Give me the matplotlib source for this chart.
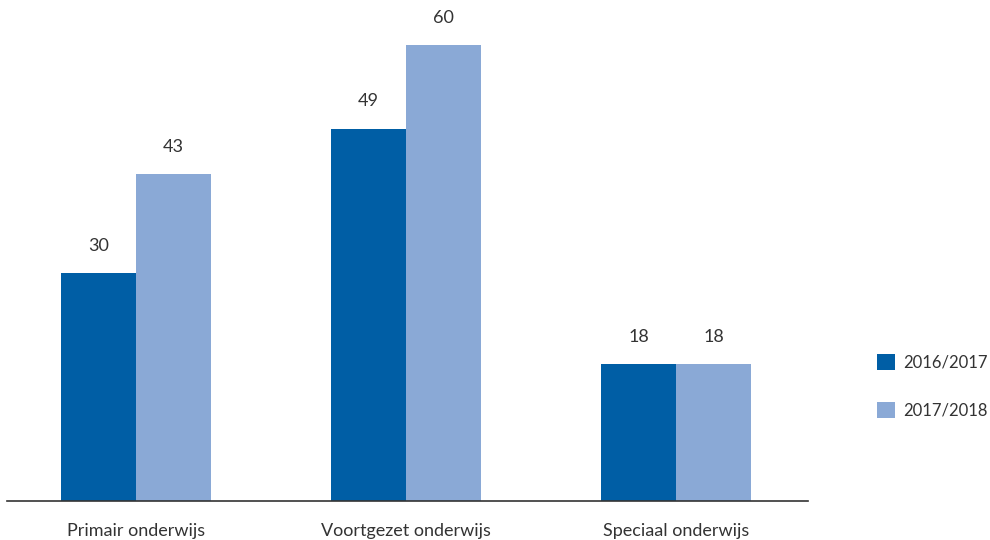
import matplotlib
matplotlib.use("Agg")
import matplotlib.pyplot as plt
import numpy as np

categories = ["Primair onderwijs", "Voortgezet onderwijs", "Speciaal onderwijs"]
series_names = ["2016/2017", "2017/2018"]
values_2016 = [30, 49, 18]
values_2017 = [43, 60, 18]

colors = ["#005ea5", "#8aa9d6"]
text_color = "#333333"

plt.rcParams['font.family'] = ['Lato', 'DejaVu Sans']

fig = plt.figure(figsize=(9.9, 5.4), dpi=100)
ax = fig.add_axes([7/990, 39/540, 801/990, 494/540])

x = np.arange(len(categories))
w = 0.278
b1 = ax.bar(x - w/2, values_2016, w, color=colors[0], label=series_names[0])
b2 = ax.bar(x + w/2, values_2017, w, color=colors[1], label=series_names[1])

for bars in (b1, b2):
    for r in bars:
        ax.annotate(f"{int(r.get_height())}", (r.get_x() + r.get_width()/2, r.get_height()),
                    xytext=(0, 14), textcoords="offset points", ha="center", va="bottom",
                    fontsize=13, color=text_color)

ax.set_xlim(-0.478, 2.489)
ax.set_ylim(0, 65)
ax.set_xticks(x)
ax.set_xticklabels(categories, fontsize=13, color=text_color)
ax.tick_params(axis='x', length=0, pad=16)
ax.set_yticks([])
for s in ["top", "right", "left"]:
    ax.spines[s].set_visible(False)
ax.spines["bottom"].set_color("#333333")
ax.spines["bottom"].set_linewidth(1.2)

fig.legend(handles=[b1, b2], labels=series_names, loc="center left",
           bbox_to_anchor=(877/990, 1 - 386/540), frameon=False, fontsize=12,
           handlelength=1.1, handleheight=1.1, handletextpad=0.45, labelspacing=1.9,
           labelcolor=text_color, borderpad=0, borderaxespad=0)

fig.savefig("out.png", dpi=100)
